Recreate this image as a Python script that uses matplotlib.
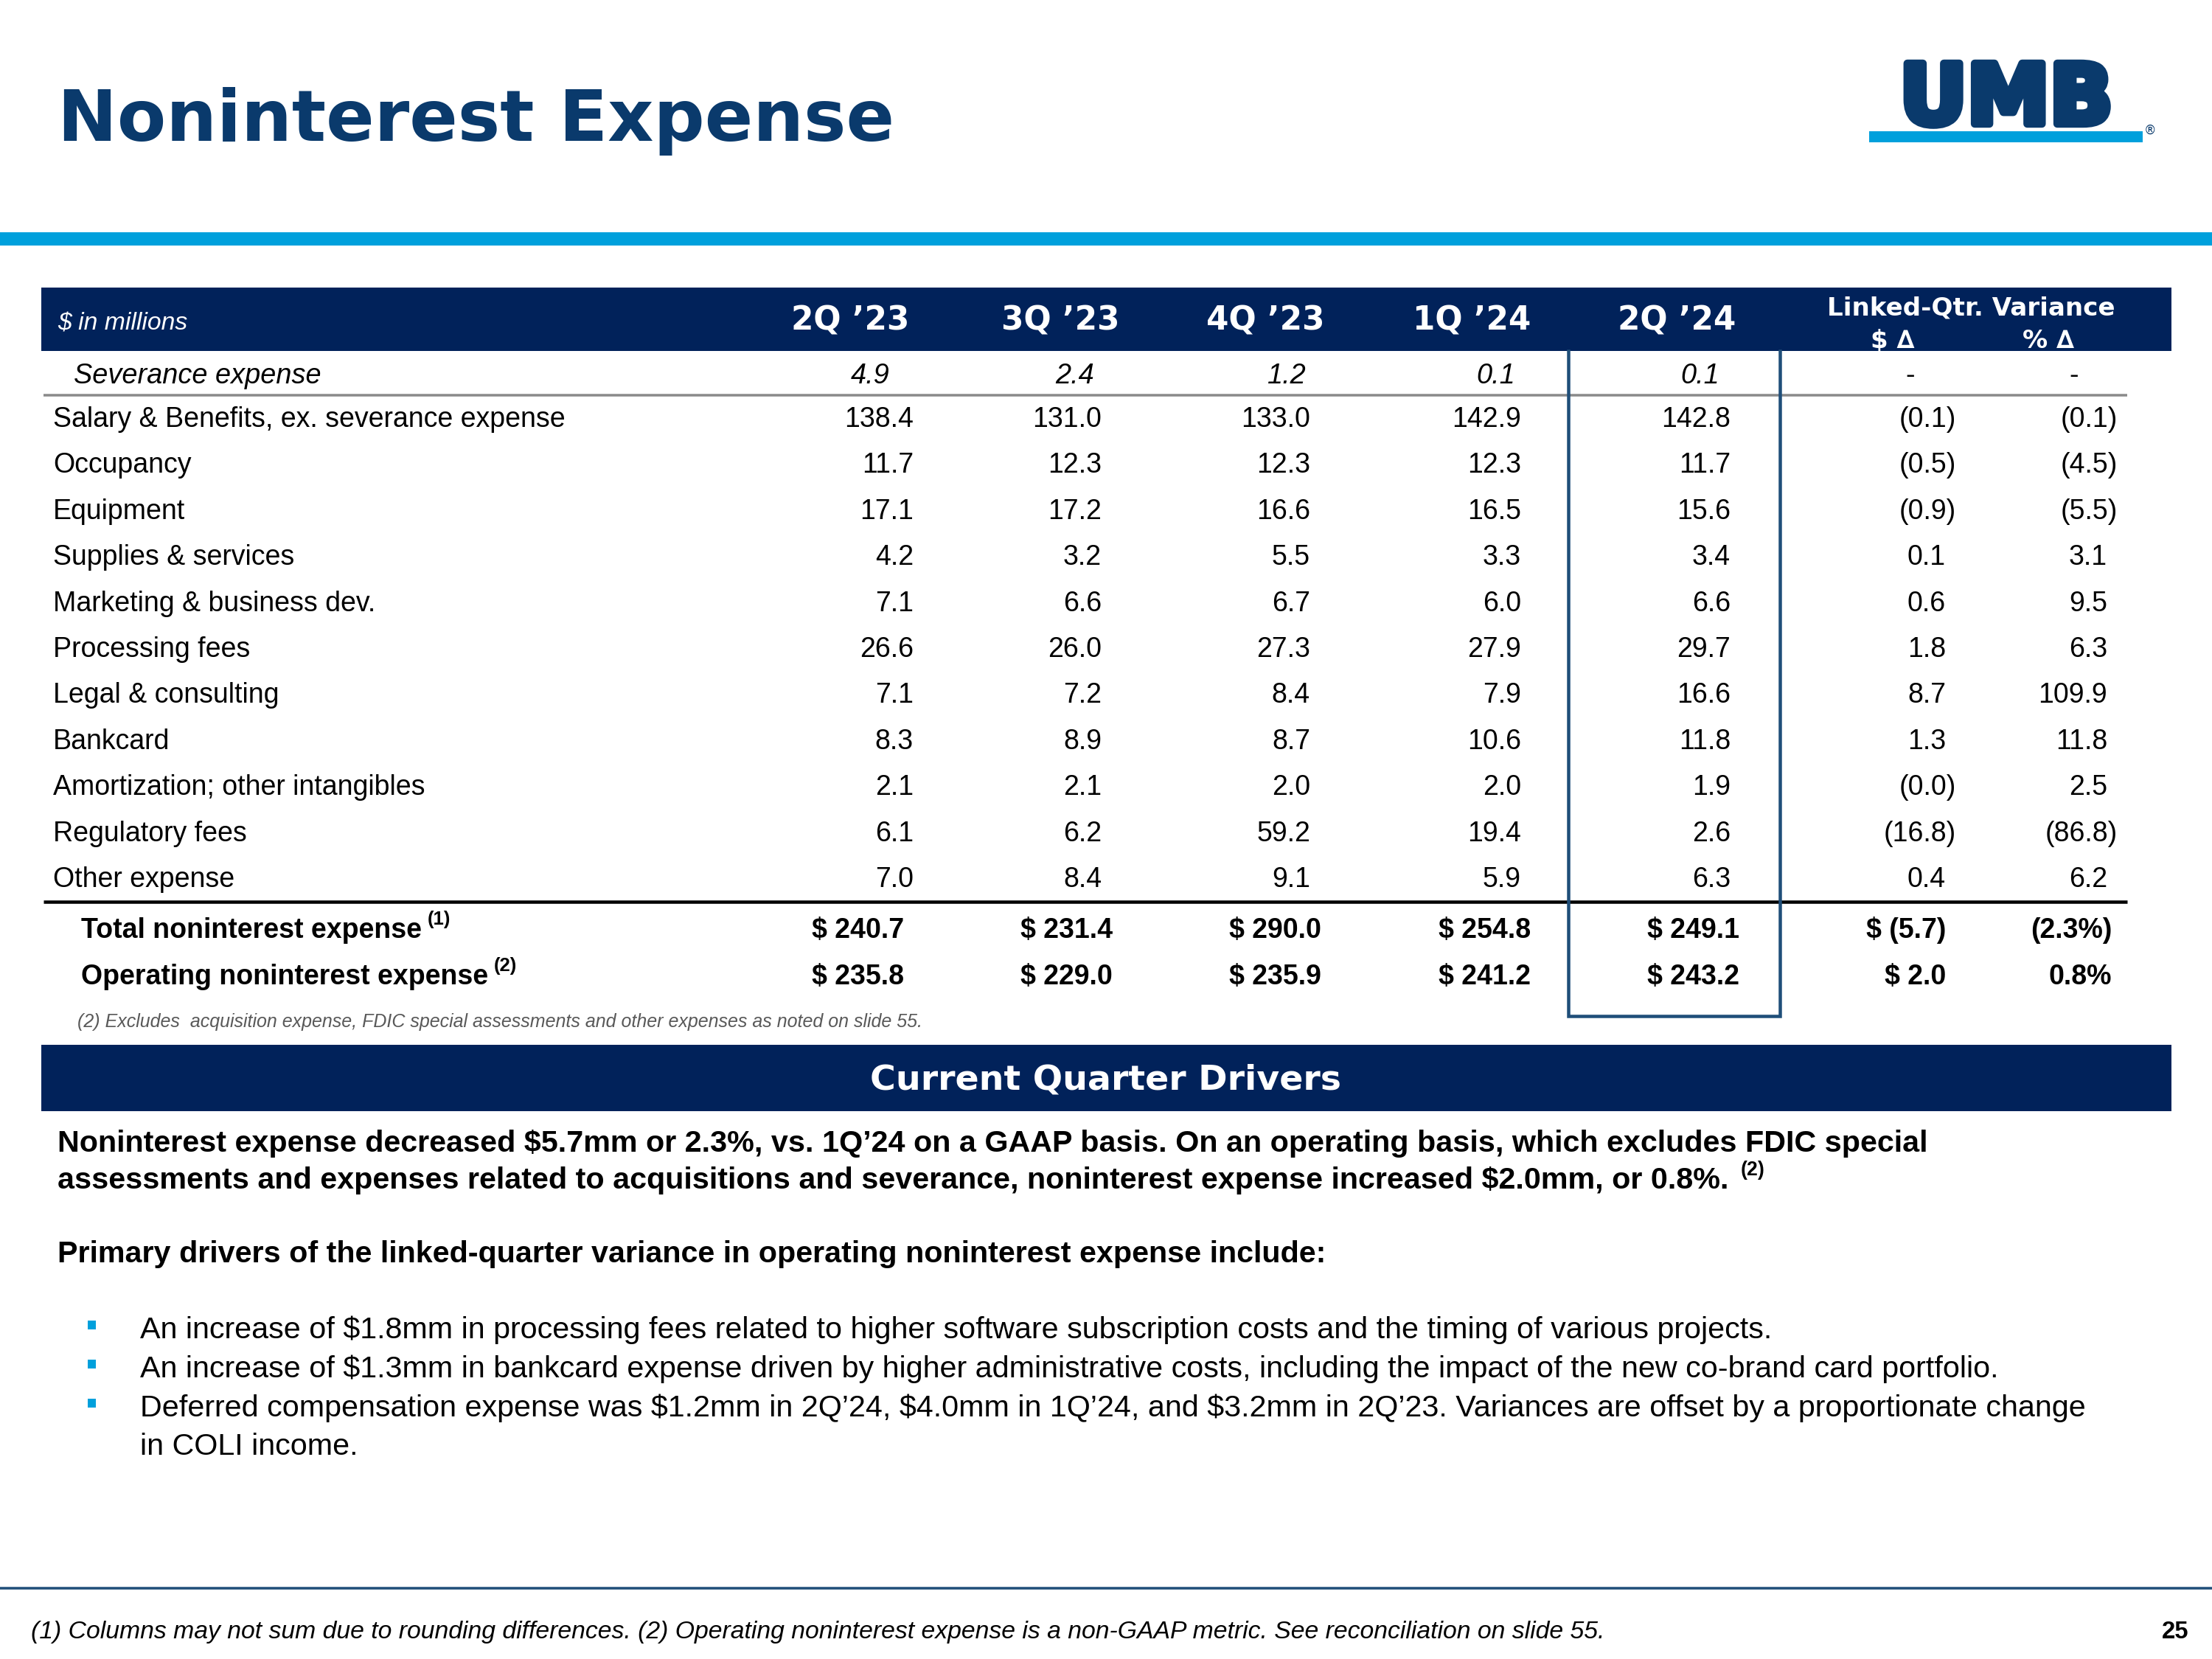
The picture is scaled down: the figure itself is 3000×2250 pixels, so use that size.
import math
import matplotlib
matplotlib.use("Agg")
import matplotlib.pyplot as plt
from matplotlib.patches import Rectangle
import matplotlib.patheffects as pe

# ---------------- data ----------------
quarters = ["2Q ’23", "3Q ’23", "4Q ’23", "1Q ’24", "2Q ’24"]
categories = ["Salary & Benefits, ex. severance expense", "Occupancy", "Equipment",
              "Supplies & services", "Marketing & business dev.", "Processing fees",
              "Legal & consulting", "Bankcard", "Amortization; other intangibles",
              "Regulatory fees", "Other expense"]
q2_23 = [138.4, 11.7, 17.1, 4.2, 7.1, 26.6, 7.1, 8.3, 2.1, 6.1, 7.0]
q3_23 = [131.0, 12.3, 17.2, 3.2, 6.6, 26.0, 7.2, 8.9, 2.1, 6.2, 8.4]
q4_23 = [133.0, 12.3, 16.6, 5.5, 6.7, 27.3, 8.4, 8.7, 2.0, 59.2, 9.1]
q1_24 = [142.9, 12.3, 16.5, 3.3, 6.0, 27.9, 7.9, 10.6, 2.0, 19.4, 5.9]
q2_24 = [142.8, 11.7, 15.6, 3.4, 6.6, 29.7, 16.6, 11.8, 1.9, 2.6, 6.3]
var_dollar = [-0.1, -0.5, -0.9, 0.1, 0.6, 1.8, 8.7, 1.3, -0.0, -16.8, 0.4]
var_pct = [-0.1, -4.5, -5.5, 3.1, 9.5, 6.3, 109.9, 11.8, 2.5, -86.8, 6.2]
severance = [4.9, 2.4, 1.2, 0.1, 0.1]
severance_var = ["-", "-"]
total_nie = [240.7, 231.4, 290.0, 254.8, 249.1]
total_var = [-5.7, -2.3]
operating_nie = [235.8, 229.0, 235.9, 241.2, 243.2]
operating_var = [2.0, 0.8]

# ---------------- styling ----------------
NAVY = "#0A3A6C"
BAR = "#01225A"
CYAN = "#00A0DC"
BOX = "#1F4E79"
SANS = ["Liberation Sans", "DejaVu Sans"]
HEAVY = ["DejaVu Sans"]

W, H = 3000, 2250
fig = plt.figure(figsize=(10, 7.5), dpi=300)
ax = fig.add_axes([0, 0, 1, 1])
ax.set_xlim(0, W)
ax.set_ylim(H, 0)
ax.axis("off")


def lw(p):
    return p * 72.0 / 300.0


def T(x, y, s, size, ha="left", family=None, weight="normal", style="normal",
      color="black", **kw):
    return ax.text(x, y, s, fontsize=size, ha=ha, va="baseline",
                   family=family or SANS, fontweight=weight, fontstyle=style,
                   color=color, parse_math=False, **kw)


renderer = fig.canvas.get_renderer()


def sup(artist, s, size, rise, gap=6, **kw):
    bb = artist.get_window_extent(renderer)
    x = bb.x1 + gap
    y = artist.get_position()[1] - rise
    return T(x, y, s, size, **kw)


def rect(x0, y0, x1, y1, color):
    ax.add_patch(Rectangle((x0, y0), x1 - x0, y1 - y0, facecolor=color,
                           edgecolor="none", zorder=1))


# ---------------- header ----------------
T(78, 191, "Noninterest Expense", 23.2, family=HEAVY, weight="bold", color=NAVY)
logo = T(2721, 168, "UMB", 27, ha="center", family=HEAVY, weight="bold", color=NAVY)
logo.set_path_effects([pe.withStroke(linewidth=2.5, foreground=NAVY)])
rect(2535, 178, 2906, 193, CYAN)
T(2908, 182, "®", 4, family=HEAVY, color=NAVY)
rect(0, 315, W, 333, CYAN)

# ---------------- table ----------------
rect(56, 390, 2945, 476, BAR)
T(78, 447, "$ in millions", 8.1, style="italic", color="white")
head_cx = [1153, 1438, 1716, 1996, 2274]
for cx, q in zip(head_cx, quarters):
    T(cx, 448, q, 10.5, ha="center", family=HEAVY, weight="bold", color="white")
T(2673, 428, "Linked-Qtr. Variance", 8.2, ha="center", family=HEAVY, weight="bold",
  color="white")
T(2567, 472, "$ ∆", 8.2, ha="center", family=HEAVY, weight="bold", color="white")
T(2778, 472, "% ∆", 8.2, ha="center", family=HEAVY, weight="bold", color="white")

# severance row
sev_right = [1207, 1484, 1771, 2055, 2332]
T(100, 520, "Severance expense", 9.1, style="italic")
for xr, v in zip(sev_right, severance):
    T(xr, 520, f"{v:.1f}", 9.1, ha="right", style="italic")
for cx, s in zip([2591, 2813], severance_var):
    T(cx, 520, s, 9.1, ha="center")
ax.plot([59, 2885], [536, 536], color="#8a8a8a", lw=lw(3.5), solid_capstyle="butt")

col_right = [1239, 1494, 1777, 2063, 2347]
var_right = [2639, 2858]
HANG = 14


def neg(v):
    return v < 0 or (v == 0 and math.copysign(1, v) < 0)


def fmt_var(v):
    if neg(v):
        return f"({abs(v):.1f})", HANG
    return f"{v:.1f}", 0


row_y0, row_dy = 579, 62.4
series = [q2_23, q3_23, q4_23, q1_24, q2_24]
for i, cat in enumerate(categories):
    y = row_y0 + i * row_dy
    T(72, y, cat, 9.0)
    for xr, ser in zip(col_right, series):
        T(xr, y, f"{ser[i]:.1f}", 9.0, ha="right")
    for xr, vv in zip(var_right, [var_dollar[i], var_pct[i]]):
        s, h = fmt_var(vv)
        T(xr + h, y, s, 9.0, ha="right")

ax.plot([59, 2885], [1223, 1223], color="black", lw=lw(4.5), solid_capstyle="butt")

tot_right = [1226, 1509, 1792, 2076, 2359]
for y, label, note, vals, var in [
        (1272, "Total noninterest expense", "(1)", total_nie, total_var),
        (1335, "Operating noninterest expense", "(2)", operating_nie, operating_var)]:
    t = T(110, y, label, 9.0, weight="bold")
    sup(t, note, 6.2, 18, gap=8, weight="bold")
    for xr, v in zip(tot_right, vals):
        T(xr, y, f"$ {v:.1f}", 9.0, ha="right", weight="bold")
    d, p = var
    ds = f"$ ({abs(d):.1f})" if neg(d) else f"$ {d:.1f}"
    ps = f"({abs(p):.1f}%)" if neg(p) else f"{p:.1f}%"
    T(2639, y, ds, 9.0, ha="right", weight="bold")
    T(2864, y, ps, 9.0, ha="right", weight="bold")

T(105, 1393, "(2) Excludes  acquisition expense, FDIC special assessments and other "
  "expenses as noted on slide 55.", 6.0, style="italic", color="#595959")

# highlight box around 2Q '24
ax.plot([2127, 2127, 2414, 2414], [476, 1378, 1378, 476], color=BOX, lw=lw(4.5),
        solid_joinstyle="miter", zorder=3)

# ---------------- drivers ----------------
rect(56, 1417, 2945, 1507, BAR)
T(1500, 1478, "Current Quarter Drivers", 11.4, ha="center", family=HEAVY,
  weight="bold", color="white")

T(78, 1562, "Noninterest expense decreased $5.7mm or 2.3%, vs. 1Q’24 on a GAAP basis. "
  "On an operating basis, which excludes FDIC special", 9.9, weight="bold")
t2 = T(78, 1612, "assessments and expenses related to acquisitions and severance, "
       "noninterest expense increased $2.0mm, or 0.8%.", 9.9, weight="bold")
sup(t2, "(2)", 6.4, 18, gap=16, weight="bold")
T(78, 1712, "Primary drivers of the linked-quarter variance in operating noninterest "
  "expense include:", 9.9, weight="bold")

bullets = [
    (1815, "An increase of $1.8mm in processing fees related to higher software "
           "subscription costs and the timing of various projects.", True),
    (1868, "An increase of $1.3mm in bankcard expense driven by higher administrative "
           "costs, including the impact of the new co-brand card portfolio.", True),
    (1921, "Deferred compensation expense was $1.2mm in 2Q’24, $4.0mm in 1Q’24, and "
           "$3.2mm in 2Q’23. Variances are offset by a proportionate change", True),
    (1973, "in COLI income.", False),
]
for y, s, has_bullet in bullets:
    if has_bullet:
        rect(119, y - 24, 130, y - 12, CYAN)
    T(190, y, s, 9.9)

# ---------------- footer ----------------
ax.plot([0, W], [2154, 2154], color=BOX, lw=lw(3.5))
T(42, 2222, "(1) Columns may not sum due to rounding differences. (2) Operating "
  "noninterest expense is a non-GAAP metric. See reconciliation on slide 55.",
  8.1, style="italic")
T(2968, 2222, "25", 7.9, ha="right", weight="bold")

fig.savefig("out.png", dpi=300)
